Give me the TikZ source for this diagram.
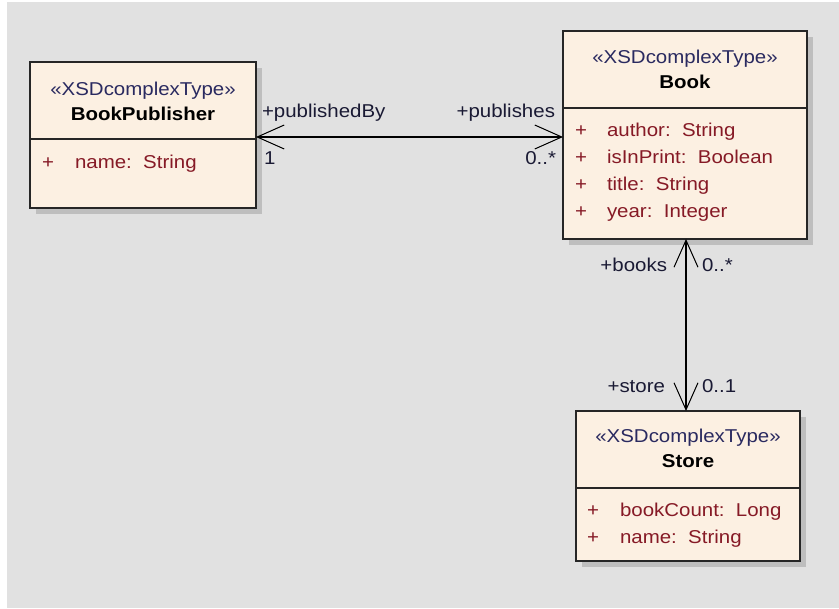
\documentclass[tikz,border=0pt]{standalone}
\usepackage{fontspec}
\setmainfont{Liberation Sans}[FakeStretch=1.1]
\usetikzlibrary{arrows.meta}
\definecolor{bg}{HTML}{E1E1E1}
\definecolor{boxfill}{HTML}{FCF0E2}
\definecolor{shadowgray}{HTML}{BEBEBE}
\definecolor{stereo}{HTML}{2A2A60}
\definecolor{attr}{HTML}{861A26}
\definecolor{lbl}{HTML}{1A1A34}
\begin{document}
\begin{tikzpicture}[x=1pt,y=-1pt,
  every node/.style={font=\fontsize{18.6}{22}\selectfont, inner sep=0pt, outer sep=0pt},
  umlbox/.style={draw=black!85, line width=1.4pt, fill=boxfill, rectangle, anchor=north west},
  boxshadow/.style={fill=shadowgray, draw=none, rectangle, anchor=north west},
  divider/.style={draw=black!85, line width=1.4pt},
  stype/.style={anchor=base, text=stereo},
  cname/.style={anchor=base, font=\fontsize{18.6}{22}\selectfont\bfseries, text=black},
  attrtxt/.style={anchor=base west, text=attr},
  endlbl/.style={text=lbl},
  barb/.tip={Straight Barb[length=27pt,width=24pt,line width=1pt]},
  assoc/.style={draw=black, line width=1.3pt, barb-barb}
]
\useasboundingbox (0,0) rectangle (839,609);
\fill[white] (0,0) rectangle (839,609);
\fill[bg] (7,2) rectangle (839,608);

% BookPublisher
\node[boxshadow, minimum width=226pt, minimum height=146pt] (bpS) at (36,68) {};
\node[umlbox, minimum width=226pt, minimum height=146pt] (bp) at (30,62) {};
\draw[divider] (bp.west |- 0,139) -- (bp.east |- 0,139);
\node[stype] (bpst) at (143,96) {«XSDcomplexType»};
\node[cname] (bpnm) at (143,121) {BookPublisher};
\node[attrtxt] (bpp1) at (42,169) {+};
\node[attrtxt] (bpa1) at (75,169) {name:\ \ String};

% Book
\node[boxshadow, minimum width=244pt, minimum height=208pt] (bookS) at (569,37) {};
\node[umlbox, minimum width=244pt, minimum height=208pt] (book) at (563,31) {};
\draw[divider] (book.west |- 0,108) -- (book.east |- 0,108);
\node[stype] (bkst) at (685,64) {«XSDcomplexType»};
\node[cname] (bknm) at (685,89) {Book};
\node[attrtxt] (bkp1) at (575,137) {+};
\node[attrtxt] (bka1) at (607,137) {author:\ \ String};
\node[attrtxt] (bkp2) at (575,164) {+};
\node[attrtxt] (bka2) at (607,164) {isInPrint:\ \ Boolean};
\node[attrtxt] (bkp3) at (575,191) {+};
\node[attrtxt] (bka3) at (607,191) {title:\ \ String};
\node[attrtxt] (bkp4) at (575,218) {+};
\node[attrtxt] (bka4) at (607,218) {year:\ \ Integer};

% Store
\node[boxshadow, minimum width=224pt, minimum height=150pt] (stS) at (582,417) {};
\node[umlbox, minimum width=224pt, minimum height=150pt] (store) at (576,411) {};
\draw[divider] (store.west |- 0,488) -- (store.east |- 0,488);
\node[stype] (stst) at (688,443) {«XSDcomplexType»};
\node[cname] (stnm) at (688,468) {Store};
\node[attrtxt] (stp1) at (587,517) {+};
\node[attrtxt] (sta1) at (620,517) {bookCount:\ \ Long};
\node[attrtxt] (stp2) at (587,544) {+};
\node[attrtxt] (sta2) at (620,544) {name:\ \ String};

% associations
\draw[assoc] ([yshift=-2pt]bp.east) -- ([yshift=-2pt]book.west);
\draw[assoc] ([xshift=1pt]book.south) -- ([xshift=1pt]book.south |- store.north);

% role labels
\node[endlbl, anchor=base west] (l1) at (262,118) {+publishedBy};
\node[endlbl, anchor=base west] (l2) at (264,165) {1};
\node[endlbl, anchor=base east] (l3) at (555,118) {+publishes};
\node[endlbl, anchor=base east] (l4) at (556,165) {0..*};
\node[endlbl, anchor=base east] (l5) at (667,272) {+books};
\node[endlbl, anchor=base west] (l6) at (702,272) {0..*};
\node[endlbl, anchor=base east] (l7) at (665,393) {+store};
\node[endlbl, anchor=base west] (l8) at (702,393) {0..1};
\end{tikzpicture}
\end{document}
